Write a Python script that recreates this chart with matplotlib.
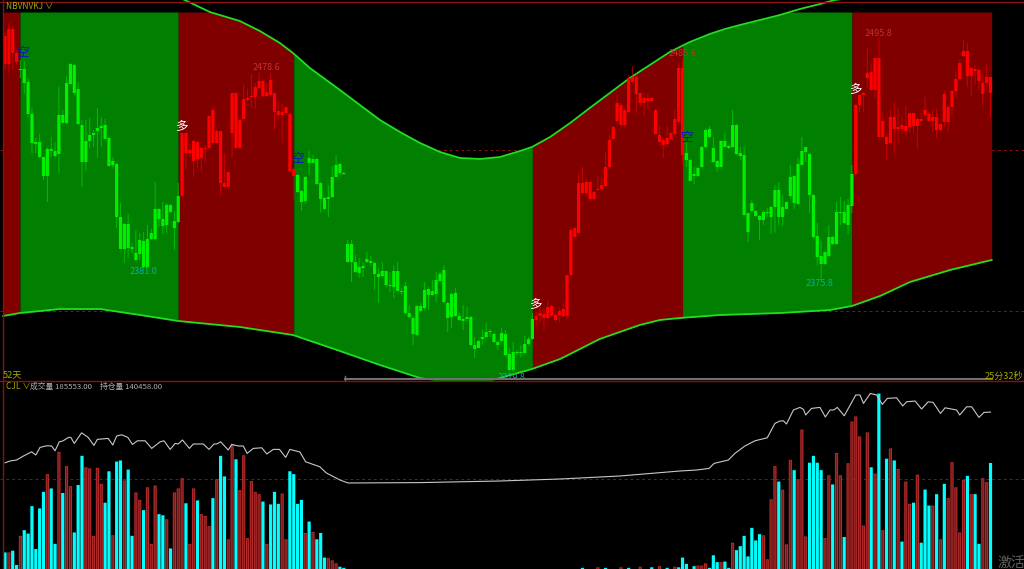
# Futures candle chart with regime zones, band curves, volume and open interest
import numpy as np
import matplotlib
matplotlib.use("Agg")
import matplotlib.pyplot as plt

plt.rcParams['font.family'] = ['Noto Sans CJK SC', 'DejaVu Sans']

# Candle bodies and wicks, one value per bar
body_top = [2499,2502.5,2502.5,2490.5,2482.5,2482.5,2476,2460,2446,2446,
2438.5,2442.5,2442.5,2441.5,2459.5,2459.5,2475.5,2485,2484.5,2472.5,
2454.5,2446.5,2449.5,2450.5,2453,2454,2454.5,2448,2436.5,2435,
2408.5,2405,2405,2393.5,2390.5,2397,2396.5,2397.5,2400.5,2412.5,
2412.5,2407.5,2414.5,2414.5,2406.5,2419,2450.5,2450.5,2442,2446.5,
2446,2443,2443,2459,2462,2451.5,2451.5,2425.5,2431,2470.5,
2470.5,2457,2467.5,2468,2469,2473.5,2476.5,2476.5,2471,2477,
2470.5,2461.5,2461,2463.5,2460,2432.5,2429.5,2421.5,2428.5,2438,
2437.5,2437.5,2425.5,2418,2418.5,2428.5,2434.5,2435,2430.5,2395,
2395,2386,2383.5,2384,2387.5,2386.5,2385.5,2380,2381.5,2381.5,
2374.5,2381.5,2381.5,2371.5,2374,2360.5,2358,2364,2364,2372,
2372.5,2371.5,2377,2380,2382,2365.5,2370,2370.5,2359,2357.5,
2358.5,2358.5,2344.5,2346.5,2348.5,2351,2351.5,2350,2346,2350.5,
2350,2340,2341,2341,2341,2345,2347.5,2357.5,2359,2360.5,
2360,2363.5,2364,2359.5,2361.5,2362.5,2379.5,2402,2403,2425.5,
2425.5,2426,2426,2421,2422.5,2424.5,2433.5,2447,2453.5,2465.5,
2464.5,2462,2478,2478.5,2478.5,2470.5,2468,2468,2468,2462,
2449.5,2447,2448,2450.5,2457.5,2483,2483,2440.5,2437,2430,
2433,2443.5,2452,2452.5,2443,2436.5,2446.5,2446.5,2444,2454.5,
2454.5,2440.5,2439.5,2410.5,2415.5,2411.5,2409,2411,2411,2413.5,
2422,2422,2413.5,2416,2428.5,2429,2435,2441.5,2443.5,2440,
2419.5,2399,2389,2391,2398.5,2398.5,2411,2411,2411,2414.5,
2430,2464.5,2469.5,2470.5,2480.5,2481,2488,2488,2456.5,2448.5,
2458.5,2458.5,2453.5,2454.5,2454,2460.5,2460.5,2457.5,2457.5,2462,
2460,2458.5,2458.5,2455,2470,2463.5,2471.5,2477.5,2485.5,2491.5,
2491.5,2483,2482.5,2482,2475.5,2478.5,2478.5]
body_bottom = [2485,2485,2490.5,2486,2482,2475.5,2460,2445.5,2445,2438.5,
2429,2429,2441.5,2439,2440,2455.5,2455.5,2475,2470.5,2455,
2436,2436,2446.5,2449.5,2451.5,2453,2447.5,2434,2434.5,2408.5,
2392.5,2392.5,2393,2392.5,2387,2390,2383.5,2383.5,2397.5,2397.5,
2407.5,2404,2404.5,2411,2403,2406,2419,2440.5,2440.5,2436.5,
2437.5,2438,2442.5,2443,2445.5,2445.5,2425.5,2423.5,2423.5,2450.5,
2443,2443,2457.5,2467,2468.5,2468.5,2473,2469,2469,2469.5,
2461,2459.5,2459.5,2460.5,2431.5,2429,2421,2416,2416.5,2435.5,
2435.5,2425,2417.5,2412.5,2417.5,2418.5,2428.5,2430.5,2430,2386,
2386,2381,2380.5,2383,2386,2385.5,2380,2378.5,2379,2374.5,
2374,2373.5,2371.5,2371,2360.5,2358.5,2350,2349.5,2361.5,2363,
2369.5,2369.5,2370,2376.5,2366,2358,2358.5,2359,2357,2356.5,
2357.5,2344.5,2342.5,2343,2347.5,2348.5,2351,2346,2344.5,2346.5,
2339.5,2332,2332,2340.5,2340.5,2340.5,2345,2347.5,2357,2359,
2358,2358,2359,2357,2359.5,2359,2359,2379.5,2398.5,2400.5,
2420.5,2420.5,2417.5,2417.5,2422,2422.5,2424,2433.5,2447.5,2456.5,
2454.5,2454.5,2461,2476,2470,2465.5,2465.5,2466.5,2466.5,2450,
2446,2444.5,2445,2447.5,2450,2456,2439.5,2437,2426.5,2429,
2429,2433.5,2443.5,2448.5,2436,2433.5,2433.5,2443.5,2443,2443.5,
2440,2439,2409.5,2401,2411.5,2409,2407,2407,2410.5,2408.5,
2413.5,2408.5,2408.5,2412.5,2419,2415.5,2415,2434.5,2441,2419.5,
2398.5,2388.5,2385,2385,2389,2395,2395,2410.5,2405.5,2404.5,
2414,2430,2464.5,2469.5,2478,2472,2472,2448.5,2448.5,2445,
2445.5,2452.5,2452.5,2452.5,2451.5,2453.5,2454,2454,2456.5,2459.5,
2456.5,2456.5,2452,2452,2456,2456,2463.5,2471.5,2477.5,2489,
2479,2479,2481.5,2476.5,2470,2475.5,2470.5]
high = [2501,2505.5,2504,2492,2487,2486.5,2478,2463,2448,2450,
2438.5,2443.5,2448.5,2446,2473.5,2462,2479,2485.5,2485,2476,
2457,2457,2458,2452,2463,2458.5,2457.5,2448.5,2438.5,2435.5,
2415.5,2405.5,2410,2395.5,2402,2400.5,2401,2404.5,2402.5,2426,
2413,2416,2415.5,2415,2411.5,2425.5,2450.5,2450.5,2445.5,2447,
2446.5,2443.5,2444.5,2459.5,2463,2452,2451.5,2440.5,2431,2470.5,
2471,2457.5,2475,2472.5,2480,2475.5,2480.5,2477,2475.5,2480.5,
2470.5,2466,2465.5,2463.5,2460.5,2433,2430,2422,2429,2441.5,
2439.5,2438,2426,2418.5,2424.5,2434,2439.5,2435.5,2431,2397,
2397,2389.5,2388,2386,2391,2389,2386,2383,2386,2381.5,
2381,2384.5,2386,2373,2376,2364.5,2359,2364.5,2365.5,2376,
2373.5,2377,2381,2381,2384.5,2366,2370.5,2373,2360.5,2364.5,
2363.5,2359,2348.5,2347,2352.5,2355.5,2352.5,2350.5,2346.5,2353,
2352,2343,2346,2342,2344.5,2349,2348.5,2360.5,2361,2364.5,
2363,2367,2364.5,2360.5,2363,2365.5,2379.5,2403,2403.5,2430.5,
2433.5,2427.5,2426.5,2421.5,2429,2428.5,2440.5,2449.5,2454,2469.5,
2465.5,2462.5,2479.5,2484,2480.5,2470.5,2470.5,2470.5,2468.5,2462.5,
2454,2448,2454,2450.5,2462,2485.5,2487,2446,2437.5,2433.5,
2433.5,2444,2453,2454,2448.5,2437,2447,2450.5,2444.5,2462,
2455,2443.5,2443.5,2410.5,2417,2412,2409.5,2412,2413,2414,
2424.5,2426,2419.5,2416,2434.5,2429.5,2438,2448.5,2443.5,2440.5,
2420,2405.5,2396.5,2391,2404.5,2399,2416,2418.5,2416.5,2417.5,
2434.5,2465,2470,2471,2493,2485.5,2488,2498,2460.5,2449,
2462,2466,2462.5,2458.5,2464,2460.5,2460.5,2458,2460.5,2468.5,
2461,2462,2462.5,2455.5,2472,2464.5,2472,2481.5,2487,2497,
2495.5,2483.5,2484.5,2482.5,2480.5,2485,2478.5]
low = [2482,2481,2482,2484.5,2478,2470,2458.5,2440.5,2440.5,2438,
2427,2416,2438.5,2438.5,2430.5,2455.5,2455,2474.5,2469.5,2454.5,
2423.5,2431.5,2443,2443.5,2438,2443.5,2447.5,2433.5,2433.5,2403,
2392.5,2385.5,2388,2390.5,2386.5,2387,2383,2383,2397,2397,
2403.5,2400,2400.5,2410.5,2392,2405.5,2418.5,2432,2438.5,2428.5,
2433,2431,2436,2442.5,2445.5,2445.5,2419,2423.5,2423.5,2438.5,
2442.5,2442.5,2457.5,2466,2463,2462.5,2472.5,2468.5,2468.5,2469.5,
2452,2457,2445.5,2460.5,2431,2417,2420.5,2411.5,2415.5,2429.5,
2435.5,2424.5,2410.5,2412,2408.5,2418,2428.5,2429.5,2429.5,2385.5,
2376,2380.5,2378,2378.5,2385.5,2384.5,2372,2365.5,2378.5,2373.5,
2371,2368,2371.5,2369.5,2359.5,2358,2344.5,2349,2361,2362,
2362,2369,2366,2376,2365.5,2351,2353,2358.5,2356.5,2352,
2356,2344,2338,2343,2344.5,2348,2348.5,2345.5,2342,2346,
2339,2331,2331,2339.5,2338.5,2340,2344.5,2347,2353.5,2355.5,
2352,2357.5,2358.5,2356,2355.5,2358.5,2357.5,2379,2398.5,2400.5,
2420,2419.5,2416,2417,2421.5,2422,2423.5,2433,2447,2456,
2454,2453.5,2460.5,2475.5,2460.5,2463.5,2459,2462.5,2466.5,2449.5,
2444,2438,2443.5,2447.5,2449.5,2455.5,2434.5,2433.5,2426.5,2425,
2428.5,2433,2443,2448,2435.5,2431,2433.5,2443.5,2442.5,2443,
2439.5,2437,2409,2396,2411,2408.5,2397,2404.5,2408.5,2400,
2400.5,2404.5,2404,2412.5,2417.5,2412.5,2414.5,2434.5,2436,2410.5,
2398,2384.5,2377,2384.5,2388.5,2394.5,2394.5,2404.5,2405,2400,
2410.5,2428.5,2461,2461,2473,2471.5,2468,2448.5,2448.5,2437,
2445,2440.5,2445.5,2450,2448.5,2450.5,2450.5,2442.5,2456,2458.5,
2456,2451,2448,2451.5,2453.5,2451.5,2459.5,2468,2477,2488.5,
2473.5,2469,2474.5,2472,2464.5,2473.5,2458.5]

# Bars where the regime changes, the first zone is red
zone_edges = [-0.5, 3.9, 45, 75, 137, 176, 220, 256.3]
zone_colors = ["#800000", "#007F00", "#800000", "#007F00", "#800000", "#007F00", "#800000"]

# Band curves
upper_bars = [-0.5,41.6,47.8,53.2,61,66.2,71.4,74.8,79.2,87,92.2,97.4,102.6,107.8,113,118.2,123.4,128.6,133.8,136.9,
141.6,146.8,151.9,157.1,162.3,167.5,172.7,177.9,183.1,187,190.9,196.1,201.3,206.5,211.7,215.6,232.5,256.3]
upper_vals = [2547,2521.5,2516,2511,2506.5,2501.5,2495.5,2490.5,2483,2472,2464.5,2457,2451,2445.5,2441,2438,2437.5,2438.5,2441.5,2443.5,
2448.5,2455.5,2463,2470.5,2478,2484.5,2491,2496,2500,2502.5,2504.5,2507,2509.5,2512.5,2515,2517,2522,2529.5]
lower_bars = [-0.5,3.9,14.3,24.7,35.1,45,61,74.8,87,97.4,107.8,112.2,126,128.6,136.9,144.2,154.5,164.9,170.1,175.3,
185.7,201.3,214.3,220,227.3,235.1,245.5,256.3]
lower_vals = [2359,2360.5,2362.5,2362.5,2359.5,2356.5,2353.5,2349.5,2341.5,2334.5,2328,2326.5,2326.5,2328,2332.5,2337.5,2347.5,2354.5,2357,2358,
2359.5,2360.5,2362,2364,2369,2376,2382,2387]

# High/low labels and signals
price_labels = ["2381.0", "2478.6", "2329.8", "2485.6", "2375.8", "2495.8"]
label_bars = [36, 68, 131.5, 176, 211.5, 227]
label_vals = [2381, 2483.5, 2328, 2490.5, 2375, 2500]
label_colors = ["#00B0B0", "#C03030", "#00B0B0", "#C03030", "#00B0B0", "#C03030"]
long_bars = [45.7, 137.8, 221]
long_vals = [2454, 2365, 2472.5]
short_bars = [4.4, 76, 177]
short_vals = [2490.5, 2437.5, 2448]

# Volume in thousands, one value per bar
volume = [29,29,32,7,58,68,62,110,35,106,
135,166,141,44,205,133,180,145,64,147,
198,178,176,58,177,149,116,171,59,188,
190,155,174,58,134,121,103,143,44,146,
96,94,87,36,134,141,159,115,44,141,
120,96,93,75,124,157,198,162,52,217,
192,138,199,54,154,135,131,118,44,113,
135,114,132,52,171,166,114,121,63,83,
65,52,63,20,19,15,10,4,2,0,
0,0,0,0,0,0,0,0,0,0,
0,0,0,0,0,0,0,0,0,0,
0,0,0,0,0,0,0,0,0,0,
0,0,0,0,0,0,0,0,0,0,
0,0,0,0,0,0,0,0,0,0,
0,0,0,0,0,0,0,0,0,0,
2,0,0,0,3,0,2,0,0,0,
3,0,2,0,0,4,0,0,3,0,
5,0,2,0,4,3,20,9,0,5,
6,6,10,2,24,12,12,13,2,46,
33,40,58,22,72,50,61,59,17,122,
180,153,139,43,191,173,157,244,57,186,
198,186,173,54,164,148,203,164,56,185,
258,267,232,76,239,178,167,307,68,193,
211,190,175,48,153,114,116,165,46,139,
111,111,131,52,149,124,187,143,64,156,
163,131,131,44,159,152,185.553]
# C is a falling bar, R a rising one
volume_kinds = ("CRCCRCCCCC" "CRCCRCRRCC" "CRRRRRCCRC" "CRCCRRCRRR" "CCRCRRRCRR"
                "CRRRCRCCRR" "CRRRRRRCRC" "CCRRCCCCRC" "RCCCRRRCCC" "CCCCCCCCCC"
                "CCCCCCCCCC" "CCCCCCCCCC" "CCCCCCCCCC" "CCCCCCCCCC" "CCCCCCCCCC"
                "CCCCRCCCCC" "RCCCCRCCCC" "RCCCRCCCCC" "RRRCCCRCCR" "CCCCCCCRRR"
                "RCRRRCRRRC" "CCCRRCRRCR" "RRRRRCRCRC" "RCRCRRCRCC" "CRCRCRRRRR"
                "CRCCRRC")

# Open interest in thousands
oi_bars = [0,1.3,3,4.8,6.9,8,9.1,10.8,12.1,13,14.1,15,16.5,17.1,18,19.9,21.6,23.1,24,26.8,
28,29,30.3,31.9,33.1,34.4,36.4,38.1,40.3,41.3,42.9,44.2,45,46.1,47.9,48.9,51.5,53,54.3,55,
56,58,58.9,60.6,61.9,62.9,64.5,66.7,68,69.7,71.3,72.9,74,76.6,78.1,81.8,83.4,87,89.1,107.8,
128.6,144.2,159.7,175.3,179.7,182.9,184.2,187.9,189.6,192.2,194.8,198,200,201.3,202.2,203,204.8,206.5,207.4,208,
209.5,211.7,213.1,214.3,215.3,216.2,218,221,222.1,223,224.8,226.4,227.9,229.2,231.6,233.2,234.2,236.4,238.1,239.8,
241.1,243,244.2,247.2,248,249.8,251.1,253,254.3,256]
oi_vals = [115.1,116,116.5,118.5,120.6,119,122.8,123.6,123.5,121.1,125.6,126,127.8,127.8,124.8,130.1,127.8,123.8,126.8,127.3,
124,128.5,129.1,127.8,124.3,126.1,126.1,122.3,125.6,126.1,121.8,124.8,124.5,126.5,122.3,124.5,124.5,121.8,124.5,124.5,
125.6,121.5,124.3,123.5,123.5,119.8,122.3,122.6,119.5,121.8,121.8,117.8,121.8,120.5,115.6,113.1,110.1,106.5,105,105.2,
106,107,108.5,111,111.5,112.3,114.8,116.5,119.8,123.5,126.1,127.6,134.8,136,136.1,134.5,141.5,142.8,141.8,139,
142.3,142.8,138,141.5,141.5,142.8,138.6,149,149,144.8,149.8,149,144.3,147.3,147.6,143.5,145.6,146,142,145.6,
145.3,139.8,142.6,141.5,139,143.1,143.1,137.8,140.3,140.458]

bars = np.arange(len(body_top))
volume = np.array(volume)

fig = plt.figure(figsize=(10.24, 5.69), dpi=100, facecolor="black")
ax = fig.add_axes([0, 189 / 569, 1, 380 / 569], facecolor="black")
vol_ax = fig.add_axes([0, 0, 1, 188 / 569], facecolor="black")
oi_ax = vol_ax.twinx()
x_range = (-1.3, 264.7)

# Price pane
ax.axhline(2442, color="#8B1010", lw=0.7, ls=(0, (3, 3)), zorder=1)
ax.axhline(2361.5, color="#8B1010", lw=0.7, ls=(0, (3, 3)), zorder=1)
for i, color in enumerate(zone_colors):
    xs = np.linspace(zone_edges[i], zone_edges[i + 1], 60)
    top = np.minimum(np.interp(xs, upper_bars, upper_vals), 2511)
    ax.fill_between(xs, np.interp(xs, lower_bars, lower_vals), top, color=color, lw=0, zorder=2)
ax.plot(upper_bars, upper_vals, color="#22DD22", lw=1.3, zorder=3)
ax.plot(lower_bars, lower_vals, color="#22DD22", lw=1.3, zorder=3)

bar_colors = []
for i in bars:
    zone = np.searchsorted(zone_edges, i) - 1
    bar_colors.append("#FF0000" if zone_colors[zone] == "#800000" else "#00F000")
wicks = ax.vlines(bars, low, high, colors=bar_colors, lw=0.72, alpha=0.55, zorder=4)
wicks.set_snap(False)
# vlines keep every body the same width, no snap so the width does not jump by a pixel
bodies = ax.vlines(bars, body_bottom, body_top, colors=bar_colors, lw=2.3, capstyle="butt", zorder=5)
bodies.set_snap(False)

for name, b, v, c in zip(price_labels, label_bars, label_vals, label_colors):
    ax.text(b, v, name, color=c, fontsize=6.5, ha="center", va="center", zorder=6)
for b, v in zip(long_bars, long_vals):
    ax.text(b, v, "多", color="white", fontsize=9, ha="center", va="center", zorder=6)
for b, v in zip(short_bars, short_vals):
    ax.text(b, v, "空", color="#1010C8", fontsize=9, ha="center", va="center", zorder=6)
ax.set_xlim(x_range)
ax.set_ylim(2327, 2517)
ax.axis("off")

# Volume pane
vol_ax.axhline(158, color="#8B1010", lw=0.7, ls=(0, (3, 3)), zorder=1)
is_up = np.array([k == "R" for k in volume_kinds])
falling = vol_ax.vlines(bars[~is_up], 0, volume[~is_up], colors="#00FFFF", lw=2.3, capstyle="butt", zorder=3)
rising = vol_ax.vlines(bars[is_up], 0, volume[is_up], colors="#B82C2C", lw=2.3, capstyle="butt", zorder=3)
rising_inner = vol_ax.vlines(bars[is_up], 0, volume[is_up] - 1.5, colors="#7A1818", lw=0.9, capstyle="butt", zorder=3.5)
for lines in [falling, rising, rising_inner]:
    lines.set_snap(False)
vol_ax.set_xlim(x_range)
vol_ax.set_ylim(0, 329)
vol_ax.axis("off")
oi_ax.plot(oi_bars, oi_vals, color="#C8C8C8", lw=0.8, zorder=4)
oi_ax.set_xlim(x_range)
oi_ax.set_ylim(62, 156)
oi_ax.axis("off")

# Frame lines and the scroll bar
fig.add_artist(plt.Line2D([2.5 / 1024, 2.5 / 1024], [0, 1], color="#8B1010", lw=1))
fig.add_artist(plt.Line2D([0, 1], [1 - 1.5 / 569, 1 - 1.5 / 569], color="#8B1010", lw=1))
fig.add_artist(plt.Line2D([0, 1], [1 - 381 / 569, 1 - 381 / 569], color="#8B1010", lw=1))
fig.add_artist(plt.Line2D([345 / 1024, 992 / 1024], [1 - 379 / 569, 1 - 379 / 569], color="#707070", lw=1.5))
fig.add_artist(plt.Line2D([345 / 1024, 345 / 1024], [1 - 376 / 569, 1 - 380 / 569], color="#707070", lw=1))

# Header texts
olive = "#A8A800"
fig.text(6 / 1024, 1 - 6.5 / 569, "NBVNVKJ ∨", color=olive, fontsize=6, va="center")
fig.text(3 / 1024, 1 - 375 / 569, "52天", color=olive, fontsize=6.5, va="center")
fig.text(1023 / 1024, 1 - 376 / 569, "25分32秒", color=olive, fontsize=6.5, va="center", ha="right")
fig.text(6 / 1024, 1 - 386.5 / 569, "CJL ∨", color=olive, fontsize=6, va="center")
fig.text(30 / 1024, 1 - 386.5 / 569, "成交量 185553.00", color="#B0B0B0", fontsize=5.6, va="center")
fig.text(100 / 1024, 1 - 386.5 / 569, "持仓量 140458.00", color="#B0B0B0", fontsize=5.6, va="center")
fig.text(998 / 1024, 1 - 563 / 569, "激活", color="#606060", fontsize=10, va="center")

fig.savefig("out.png", dpi=100, facecolor="black")
